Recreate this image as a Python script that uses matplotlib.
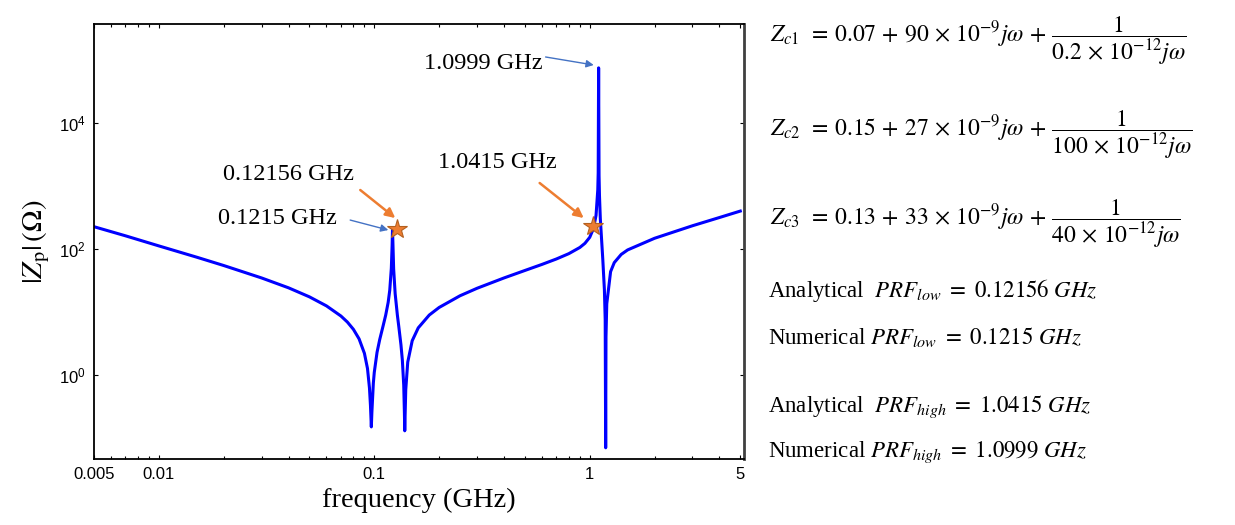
import matplotlib
matplotlib.use("Agg")
import matplotlib.pyplot as plt
from matplotlib.ticker import LogLocator, NullFormatter, FixedLocator, FixedFormatter

# |Zp| (frequency in GHz, impedance in ohm)
freq = [0.005, 0.007, 0.01, 0.015, 0.02, 0.03, 0.04, 0.05, 0.06, 0.07, 0.075,
        0.08, 0.085, 0.09, 0.093, 0.095, 0.096, 0.0969, 0.0975, 0.099, 0.1,
        0.103, 0.106, 0.11, 0.113, 0.116, 0.118, 0.12, 0.121, 0.1215, 0.122,
        0.123, 0.125, 0.128, 0.13, 0.133, 0.135, 0.137, 0.138, 0.1385, 0.139,
        0.14, 0.143, 0.15, 0.16, 0.18, 0.2, 0.25, 0.3, 0.4, 0.5, 0.6, 0.7,
        0.8, 0.9, 0.95, 1.0, 1.0415, 1.07, 1.09, 1.095, 1.0999, 1.105, 1.11,
        1.12, 1.15, 1.17, 1.18, 1.186, 1.19, 1.2, 1.25, 1.3, 1.4, 1.5, 2.0,
        3.0, 4.0, 5.0]
zp = [226, 162, 112, 74.1, 54.7, 34.7, 24.2, 17.4, 12.5, 8.64, 6.93,
      5.31, 3.75, 2.21, 1.27, 0.62, 0.33, 0.15, 0.26, 0.74, 1.1,
      2.29, 3.66, 6.1, 8.94, 14.2, 22.2, 49.6, 113, 202, 130,
      48.4, 19.6, 8.93, 5.83, 3.01, 1.72, 0.69, 0.25, 0.13, 0.22,
      0.585, 1.6, 3.5, 5.6, 8.95, 11.8, 18.1, 23.8, 34.7, 45.6, 56.9, 69.4,
      84.4, 105.8, 123, 153, 212, 342, 865, 1620, 75000, 1470, 704,
      304, 68.7, 22.5, 7.6, 0.07, 4.04, 13.5, 43.7, 60.8, 82, 96.7, 148,
      234, 316, 400]

# analytical resonance markers (as placed in the figure)
star_freq = [0.127, 1.033]
star_z = [205, 232]

xtick_vals = [0.005, 0.01, 0.1, 1, 5]
xtick_labels = ["0.005", "0.01", "0.1", "1", "5"]
ytick_vals = [1, 100, 1e4]

plt.rcParams["mathtext.fontset"] = "stix"
serif = "Liberation Serif"
sans = "Liberation Sans"

fig = plt.figure(figsize=(12.35, 5.25), dpi=100)
ax = fig.add_axes([0.0761, 0.1257, 0.5263, 0.8286])

ax.plot(freq, zp, color="#0000FF", lw=2.2)
ax.plot(star_freq, star_z, linestyle="none", marker="*", ms=15,
        mfc="#ED7D31", mec="#B4601F", mew=0.8, zorder=5)

ax.set_xscale("log")
ax.set_yscale("log")
ax.set_xlim(0.005, 5.2)
ax.set_ylim(0.0464, 3.73e5)

ax.xaxis.set_major_locator(FixedLocator(xtick_vals))
ax.xaxis.set_major_formatter(FixedFormatter(xtick_labels))
ax.xaxis.set_minor_locator(LogLocator(base=10, subs=range(2, 10), numticks=20))
ax.xaxis.set_minor_formatter(NullFormatter())
ax.yaxis.set_major_locator(FixedLocator(ytick_vals))
ax.yaxis.set_minor_locator(FixedLocator([]))

ax.tick_params(which="both", direction="in", top=True, right=True,
               width=0.8, colors="black")
ax.tick_params(which="major", length=3, labelsize=12, pad=6)
ax.tick_params(which="minor", length=2)
for lab in ax.get_xticklabels() + ax.get_yticklabels():
    lab.set_fontfamily(sans)

for side in ["left", "top", "bottom"]:
    ax.spines[side].set_linewidth(1.3)
ax.spines["right"].set_linewidth(2)
ax.spines["right"].set_color("#404040")

ax.set_xlabel("frequency (GHz)", fontfamily=serif, fontsize=20.5, labelpad=4)
ax.set_ylabel(r"$|Z_{\rm p}|\,(\Omega)$", fontfamily=serif, fontsize=21,
              labelpad=5)

# annotations
orange = "#ED7D31"
blue_ann = "#4472C4"
ax.annotate("", xy=(0.1252, 310), xytext=(0.0861, 864),
            arrowprops=dict(arrowstyle="-|>", color=orange, lw=1.8,
                            mutation_scale=14, shrinkA=0, shrinkB=0))
ax.annotate("", xy=(0.1162, 200), xytext=(0.0773, 288),
            arrowprops=dict(arrowstyle="-|>", color=blue_ann, lw=1.0,
                            mutation_scale=11, shrinkA=0, shrinkB=0))
ax.annotate("", xy=(0.938, 310), xytext=(0.5856, 1116),
            arrowprops=dict(arrowstyle="-|>", color=orange, lw=1.8,
                            mutation_scale=14, shrinkA=0, shrinkB=0))
ax.annotate("", xy=(1.044, 8.33e4), xytext=(0.624, 1.117e5),
            arrowprops=dict(arrowstyle="-|>", color=blue_ann, lw=1.0,
                            mutation_scale=11, shrinkA=0, shrinkB=0))

ax.text(0.01977, 1496, "0.12156 GHz", fontfamily=serif, fontsize=17.5,
        va="center", ha="left")
ax.text(0.0188, 310, "0.1215 GHz", fontfamily=serif, fontsize=17.5,
        va="center", ha="left")
ax.text(0.1985, 2404, "1.0415 GHz", fontfamily=serif, fontsize=17.5,
        va="center", ha="left")
ax.text(0.1709, 8.96e4, "1.0999 GHz", fontfamily=serif, fontsize=17.5,
        va="center", ha="left")

# equations on the right
eqs = [
    r"$Z_{c1}\ \,=\, 0.07\,+\,90\,\times\,10^{-9}j\omega\,+\,\dfrac{1}{0.2\,\times\,10^{-12}j\omega}$",
    r"$Z_{c2}\ \,=\, 0.15\,+\,27\,\times\,10^{-9}j\omega\,+\,\dfrac{1}{100\,\times\,10^{-12}j\omega}$",
    r"$Z_{c3}\ \,=\, 0.13\,+\,33\,\times\,10^{-9}j\omega\,+\,\dfrac{1}{40\,\times\,10^{-12}j\omega}$",
]
for s, y in zip(eqs, [0.922, 0.743, 0.573]):
    fig.text(0.6235, y, s, fontsize=17, va="center", ha="left")

notes = [
    r"Analytical  $PRF_{low}\ =\ 0.12156\ GHz$",
    r"Numerical $PRF_{low}\ =\ 0.1215\ GHz$",
    r"Analytical  $PRF_{high}\ =\ 1.0415\ GHz$",
    r"Numerical $PRF_{high}\ =\ 1.0999\ GHz$",
]
for s, y in zip(notes, [0.4476, 0.358, 0.2248, 0.139]):
    fig.text(0.6220, y, s, fontfamily=serif, fontsize=16.5, va="center",
             ha="left")

fig.savefig("out.png", dpi=100)
